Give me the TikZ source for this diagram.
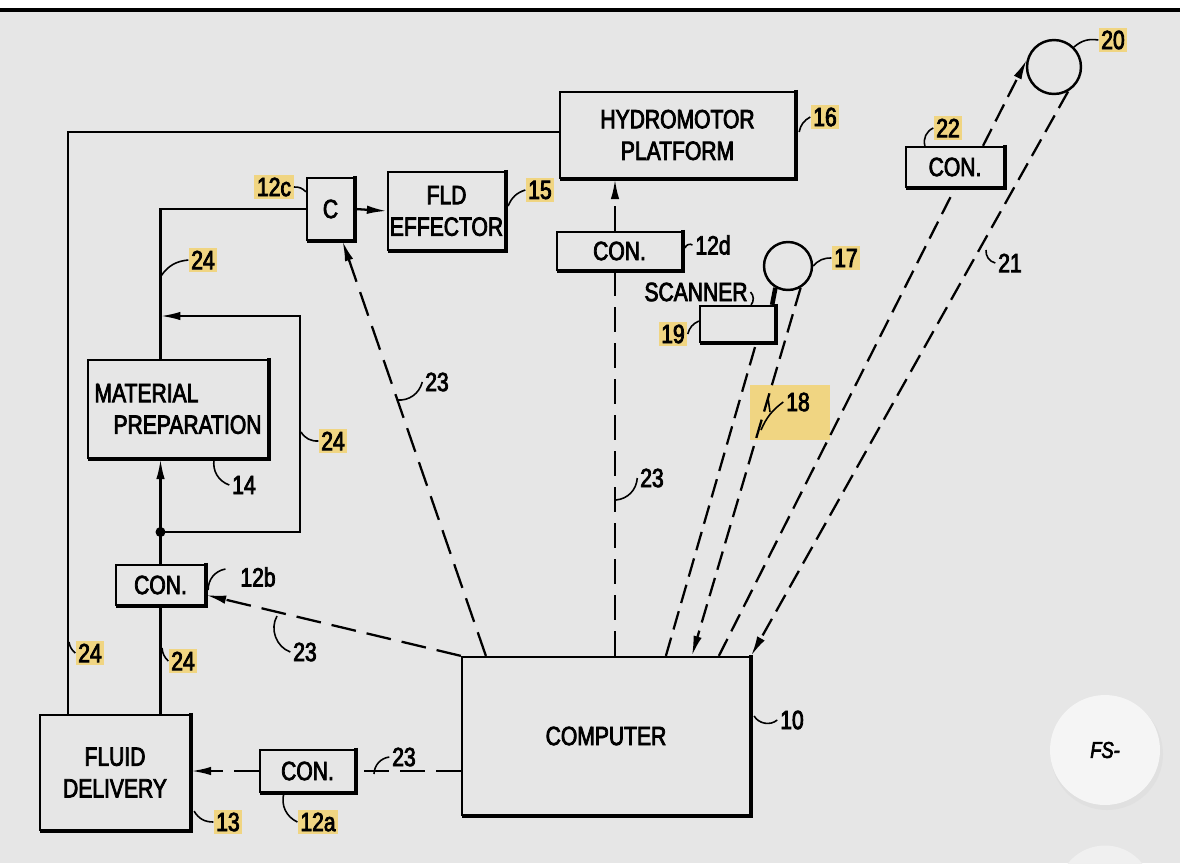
\documentclass[tikz,border=0pt]{standalone}
\usepackage{fontspec}
\setmainfont{Liberation Sans}[FakeStretch=0.8]
\newfontfamily\plotfont{Liberation Sans}[FakeStretch=0.8, FakeBold=3]
\usepackage{tikz}
\usetikzlibrary{arrows.meta, positioning, calc}
\definecolor{paper}{RGB}{230,230,230}
\definecolor{hilite}{RGB}{240,213,130}
\tikzset{
    blockbox/.style={
        rectangle,
        draw=black,
        line width=1.3pt,
        fill=paper,
        align=center,
        inner sep=1pt,
        font=\plotfont\fontsize{15}{18}\selectfont,
        append after command={\pgfextra{\draw[line width=2.6pt]
            ($(\tikzlastnode.north east)+(0,-1)$) -- (\tikzlastnode.south east) -- ($(\tikzlastnode.south west)+(1,0)$);}}
    },
    eyeball/.style={
        circle,
        draw=black,
        line width=1.4pt,
        fill=paper
    },
    numlabel/.style={
        font=\plotfont\fontsize{15}{18}\selectfont,
        inner sep=1.5pt
    },
    hlabel/.style={
        numlabel,
        fill=hilite
    },
    wire/.style={line width=1.3pt},
    sigline/.style={line width=1.3pt, dash pattern=on 0.5cm off 0.22cm},
    beam/.style={line width=1.3pt, dash pattern=on 0.38cm off 0.17cm},
    lead/.style={line width=0.9pt},
    flowtip/.style={-{Latex[length=4mm, width=1.7mm]}}
}

\begin{document}
\begin{tikzpicture}[x=0.02cm, y=-0.02cm]
    \clip (0,0) rectangle (1180,863);
    \fill[paper] (0,0) rectangle (1180,863);
    \fill[white] (0,0) rectangle (1180,8);
    \draw[line width=2.5pt] (0,10) -- (1180,10);

    % blocks
    \node[blockbox, minimum width=4.7cm, minimum height=1.72cm] (hydro) at (677.5,135) {HYDROMOTOR\\PLATFORM};
    \node[blockbox, minimum width=0.94cm, minimum height=1.24cm] (cbox) at (330.5,209) {C};
    \node[blockbox, minimum width=2.34cm, minimum height=1.56cm] (fld) at (446.5,211) {FLD\\EFFECTOR};
    \node[blockbox, minimum width=2.5cm, minimum height=0.76cm] (con12d) at (619.5,251) {CON.};
    \node[blockbox, minimum width=1.5cm, minimum height=0.72cm] (scan) at (737.5,324) {};
    \node[eyeball, minimum size=0.96cm] (eye17) at (788,266) {};
    \node[eyeball, minimum size=1.08cm] (eye20) at (1054,67) {};
    \node[blockbox, minimum width=1.96cm, minimum height=0.8cm] (con22) at (955,167) {CON.};
    \node[blockbox, minimum width=3.6cm, minimum height=1.96cm, align=left] (matprep) at (178,409) {MATERIAL\\\hspace*{0.38cm}PREPARATION};
    \node[blockbox, minimum width=1.78cm, minimum height=0.8cm] (con12b) at (160.5,585) {CON.};
    \node[blockbox, minimum width=3.0cm, minimum height=2.3cm] (fluid) at (115,772.5) {FLUID\\DELIVERY};
    \node[blockbox, minimum width=1.9cm, minimum height=0.84cm] (con12a) at (307.5,771) {CON.};
    \node[blockbox, minimum width=5.76cm, minimum height=3.16cm] (comp) at (606,736) {COMPUTER};

    % fluid lines 24
    \coordinate (topleft) at (68,132);
    \coordinate (split) at (160.5,532);
    \coordinate (loopright) at (300,316);
    \draw[wire] (topleft |- fluid.north) -- (topleft) -- (topleft -| hydro.west);
    \draw[wire] (con12b.south) -- (con12b.south |- fluid.north);
    \draw[wire] (con12b.north) -- (split);
    \draw[wire, flowtip] (split) -- (split |- matprep.south);
    \draw[wire, flowtip] (split) -| (loopright) -- (loopright -| split);
    \fill (split) circle[radius=0.1cm];
    \draw[wire] (matprep.north -| split) -- (split |- cbox.west) -- (cbox.west);
    \draw[wire, flowtip] (cbox.east) -- (fld.west);

    % control lines 23
    \coordinate (vline) at (615,450);
    \draw[sigline, flowtip] ($(comp.north west)+(25,0)$) -- ($(cbox.south)+(12,0)$);
    \draw[sigline] (vline |- comp.north) -- (vline |- con12d.south);
    \draw[sigline, flowtip] (vline |- con12d.north) -- (vline |- hydro.south);
    \draw[sigline, flowtip] (comp.north west) -- ($(con12b.east)+(0,10)$);
    \draw[sigline] (comp.west |- con12a.east) -- (con12a.east);
    \draw[sigline, flowtip] (con12a.west) -- (fluid.east |- con12a.west);

    % sensor beams 18 and 21
    \fill[hilite] (750,385) rectangle (830,440);
    \draw[beam] ($(comp.north west)+(205,0)$) -- ($(scan.south east)+(-20,0)$);
    \draw[beam, flowtip] (eye17.-60) -- ($(comp.north west)+(231,0)$);
    \draw[beam] ($(comp.north west)+(258,0)$) -- (con22.south);
    \draw[beam, flowtip] ($(con22.north)+(28,0)$) -- (eye20.165);
    \draw[beam, flowtip] (eye20.-60) -- (comp.north east);
    \draw[line width=2.6pt] ($(scan.north east)+(-4,0)$) -- (eye17.-120);

    % reference numerals
    \node[hlabel] (n16) at (825,117) {16};
    \draw[lead] ($(hydro.east)+(3,-3)$) to[bend left=25] (n16.west);
    \node[hlabel] (n12c) at (274,187) {12c};
    \draw[lead] (n12c.east) to[bend left=25] ($(cbox.north west)+(0,15)$);
    \node[hlabel] (n15) at (540,190) {15};
    \draw[lead] ($(fld.east)+(2,-5)$) to[bend left=25] (n15.west);
    \node[numlabel] (n12d) at (713,245) {12d};
    \draw[lead] ($(con12d.east)+(2,-3)$) to[bend left=60] (n12d.west);
    \node[hlabel] (n17) at (846,258) {17};
    \draw[lead] (eye17.east) to[bend left=25] (n17.west);
    \node[numlabel] (scanlbl) at (696,292) {SCANNER};
    \draw[lead] (scanlbl.east) to[bend left=40] ($(scan.north east)+(-25,0)$);
    \node[hlabel] (n19) at (673,334) {19};
    \draw[lead] (n19.east) to[bend left=25] ($(scan.west)+(0,-3)$);
    \node[numlabel] (n18) at (798,402) {18};
    \draw[lead] (761,430) to[bend left=15] (n18.west);
    \draw[lead] (770,412) -- (768,398);
    \node[numlabel] (n21) at (1010,263) {21};
    \draw[lead] (986,250) to[bend right=40] (n21.west);
    \node[hlabel] (n20) at (1113,40) {20};
    \draw[lead] (eye20.45) to[bend left=25] (n20.west);
    \node[hlabel] (n22) at (948,128) {22};
    \draw[lead] ($(con22.north west)+(20,0)$) to[bend left=40] (n22.west);
    \node[hlabel] (n24a) at (203,260) {24};
    \draw[lead] (161,276) to[bend left=25] (n24a.west);
    \node[numlabel] (n23a) at (437,382) {23};
    \draw[lead] (397,400) to[bend right=40] (n23a.west);
    \node[hlabel] (n24b) at (333,441) {24};
    \draw[lead] (301,432) to[bend right=30] (n24b.west);
    \node[numlabel] (n14) at (244,485) {14};
    \draw[lead] ($(matprep.south east)+(-55,0)$) to[bend right=40] (n14.west);
    \node[numlabel] (n23b) at (652,478) {23};
    \draw[lead] (616,500) to[bend right=40] (n23b.west);
    \node[numlabel] (n12b) at (258,577) {12b};
    \draw[lead] ($(con12b.east)+(2,5)$) to[bend left=40] ($(n12b.west)+(-12,-8)$);
    \node[numlabel] (n23c) at (305,652) {23};
    \draw[lead] (277,616) to[bend right=50] (n23c.west);
    \node[hlabel] (n24c) at (90,653) {24};
    \draw[lead] (69,642) to[bend right=20] (n24c.west);
    \node[hlabel] (n24d) at (183,661) {24};
    \draw[lead] (162,648) to[bend right=20] (n24d.west);
    \node[numlabel] (n23d) at (404,757) {23};
    \draw[lead] (374,774) to[bend left=40] (n23d.west);
    \node[hlabel] (n13) at (228,822) {13};
    \draw[lead] ($(fluid.south east)+(3,-20)$) to[bend right=30] (n13.west);
    \node[hlabel] (n12a) at (318,822) {12a};
    \draw[lead] ($(con12a.south west)+(25,0)$) to[bend right=40] (n12a.west);
    \node[numlabel] (n10) at (792,720) {10};
    \draw[lead] ($(comp.east)+(3,-20)$) to[bend right=50] (n10.west);

    % viewer button
    \fill[black!12] (1107,754) circle[radius=1.12cm];
    \node[circle, fill=black!4, minimum size=2.2cm, font=\plotfont\fontsize{13}{15}\selectfont\itshape] (fsbtn) at (1105,750) {FS-};
    \node[circle, fill=black!6, minimum size=1.9cm] (fsbtn2) at (1105,893) {};
\end{tikzpicture}
\end{document}
